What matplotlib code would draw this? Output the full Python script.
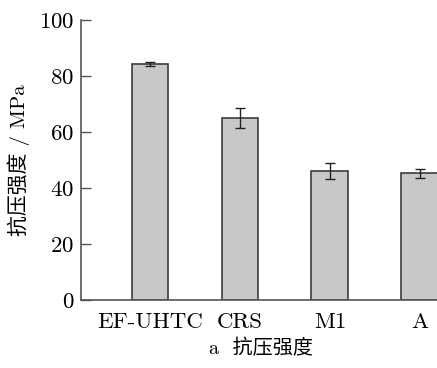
import matplotlib.pyplot as plt
import numpy as np

plt.rcParams['font.family'] = ['cmr10', 'Noto Sans CJK SC', 'DejaVu Sans']
plt.rcParams['axes.formatter.use_mathtext'] = True

samples = ['EF-UHTC', 'CRS', 'M1', 'A']
strength = [84.3, 64.9, 46.1, 45.2]
err = [0.6, 3.6, 3.0, 1.7]
yticks = [0, 20, 40, 60, 80, 100]

fig = plt.figure(figsize=(4.37, 3.68), dpi=100)
ax = fig.add_axes([81 / 437, 68 / 368, 1 - 81 / 437, 280 / 368])

x = np.arange(len(samples))
ax.bar(x, strength, width=0.41, color='#c8c8c8', edgecolor='#3c3c3c', linewidth=1.2,
       yerr=err, capsize=3.5, error_kw=dict(ecolor='#222222', elinewidth=1.0, capthick=1.0))

ax.set_xlim(-0.767, 3.19)
ax.set_ylim(0, 100)
ax.set_yticks(yticks)
ax.set_xticks(x)
ax.set_xticklabels(samples)
ax.tick_params(axis='y', direction='in', length=7, width=1, color='#555555', labelsize=16.5, pad=5)
ax.tick_params(axis='x', length=0, labelsize=16.5, pad=9)
for s in ['top', 'right']:
    ax.spines[s].set_visible(False)
for s in ['left', 'bottom']:
    ax.spines[s].set_color('#555555')
    ax.spines[s].set_linewidth(1.2)

ax.set_ylabel('抗压强度 / MPa', fontsize=15, labelpad=6)
fig.text(261 / 437, 1 - 348 / 368, 'a  抗压强度', ha='center', va='center', fontsize=14.5)

fig.savefig('out.png', dpi=100)
